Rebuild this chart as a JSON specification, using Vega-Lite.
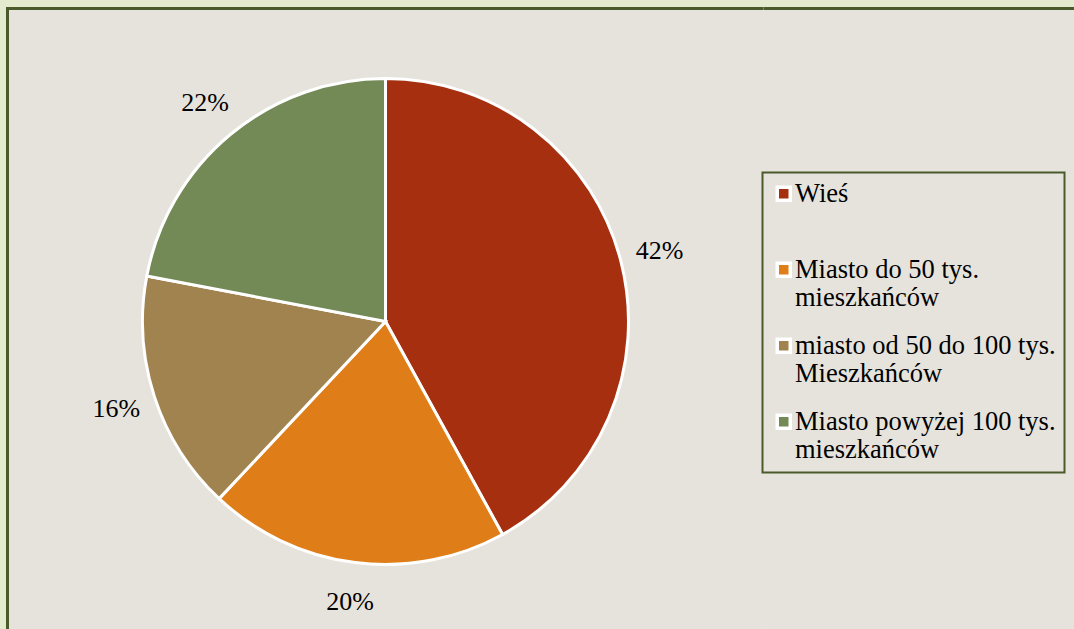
{
  "$schema": "https://vega.github.io/schema/vega-lite/v6.json",
  "autosize": {"type": "pad"},
  "bounds": "flush",
  "padding": {"left": 5.5, "top": 6.5, "right": 0, "bottom": 0},
  "background": "#E4EACD",
  "spacing": 0,
  "config": {
    "font": "Liberation Serif, Times New Roman, serif",
    "legend": {"strokeColor": "#4A5A2A", "strokeWidth": 2}
  },
  "data": {
    "values": [
      {"idx": 1, "kat": "Wieś", "wartosc": 42, "label": "42%"},
      {"idx": 2, "kat": "Miasto do 50 tys. mieszkańców", "wartosc": 20, "label": "20%"},
      {"idx": 3, "kat": "miasto od 50 do 100 tys. Mieszkańców", "wartosc": 16, "label": "16%"},
      {"idx": 4, "kat": "Miasto powyżej 100 tys. mieszkańców", "wartosc": 22, "label": "22%"}
    ]
  },
  "hconcat": [
    {
      "width": 756,
      "height": 626,
      "view": {"stroke": "#4A5A2A", "strokeWidth": 3, "strokeDash": [756, 1382, 626], "fill": "#E6E3DC"},
      "encoding": {
        "theta": {"field": "wartosc", "type": "quantitative", "stack": true},
        "order": {"field": "idx", "type": "ordinal"}
      },
      "layer": [
        {
          "mark": {"type": "arc", "outerRadius": 243, "stroke": "white", "strokeWidth": 3},
          "encoding": {
            "color": {
              "field": "kat",
              "type": "nominal",
              "scale": {
                "domain": ["Wieś", "Miasto do 50 tys. mieszkańców", "miasto od 50 do 100 tys. Mieszkańców", "Miasto powyżej 100 tys. mieszkańców"],
                "range": ["#A52F0E", "#DF7E18", "#A0834F", "#738956"]
              },
              "legend": {
                "title": null,
                "orient": "none",
                "legendX": 755,
                "legendY": 164,
                "symbolType": "square",
                "symbolSize": 169,
                "symbolStrokeColor": "white",
                "symbolStrokeWidth": 3.5,
                "symbolOpacity": 1,
                "symbolOffset": 0,
                "labelFont": "Liberation Serif, Times New Roman, serif",
                "labelFontSize": 26.5,
                "labelColor": "black",
                "labelLimit": 400,
                "labelOffset": -2,
                "labelBaseline": "top",
                "labelExpr": "datum.label == 'Wieś' ? ['Wieś', ' '] : datum.label == 'Miasto do 50 tys. mieszkańców' ? ['Miasto do 50 tys.', 'mieszkańców'] : datum.label == 'Miasto powyżej 100 tys. mieszkańców' ? ['Miasto powyżej 100 tys.', 'mieszkańców'] : ['miasto od 50 do 100 tys.', 'Mieszkańców']",
                "rowPadding": 19,
                "padding": 8,
                "strokeColor": "#4A5A2A",
                "encode": {
                  "labels": {"update": {"dy": {"value": -13}}}
                }
              }
            }
          }
        },
        {
          "mark": {"type": "text", "radius": 283, "font": "Liberation Serif, Times New Roman, serif", "fontSize": 26, "fill": "black"},
          "encoding": {
            "text": {"field": "label", "type": "nominal"}
          }
        }
      ]
    },
    {
      "width": 320,
      "height": 626,
      "view": {"stroke": "#4A5A2A", "strokeWidth": 3, "strokeDash": [320, 3000], "fill": "#E6E3DC"},
      "mark": {"type": "text", "opacity": 0},
      "encoding": {
        "text": {"value": ""}
      }
    }
  ]
}
